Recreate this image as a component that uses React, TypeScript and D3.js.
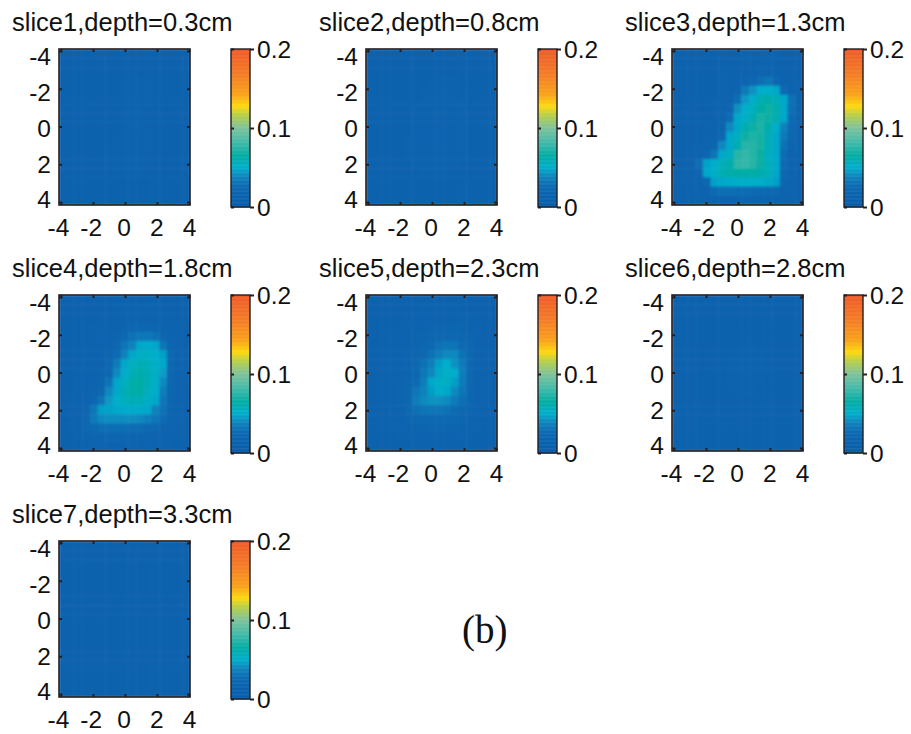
import React, { useEffect, useRef } from 'react'
import * as d3 from 'd3'

// values are in thousandths, rows run from y=-4 down to y=4, columns from x=-4 to x=4
const slice1 = [
	[12, 12, 12, 12, 12, 12, 12, 12, 12, 12, 12, 12, 12, 12, 12, 12, 12],
	[12, 12, 12, 12, 12, 12, 12, 12, 12, 12, 12, 12, 12, 12, 12, 12, 12],
	[12, 12, 12, 12, 12, 13, 13, 13, 13, 13, 13, 13, 13, 13, 12, 12, 12],
	[12, 12, 12, 12, 12, 13, 13, 13, 14, 14, 14, 14, 13, 13, 12, 12, 12],
	[12, 12, 12, 12, 12, 13, 13, 13, 14, 14, 14, 14, 13, 13, 12, 12, 12],
	[12, 12, 12, 12, 12, 13, 13, 13, 14, 14, 14, 14, 13, 13, 12, 12, 12],
	[12, 12, 12, 12, 12, 13, 13, 13, 14, 14, 14, 14, 13, 13, 12, 12, 12],
	[12, 12, 12, 12, 12, 13, 13, 13, 14, 14, 14, 14, 13, 13, 12, 12, 12],
	[12, 12, 12, 12, 12, 13, 13, 13, 14, 14, 14, 14, 13, 13, 12, 12, 12],
	[12, 12, 12, 12, 13, 13, 13, 13, 14, 14, 14, 14, 13, 13, 12, 12, 12],
	[12, 12, 12, 12, 13, 13, 13, 14, 14, 14, 14, 14, 13, 13, 12, 12, 12],
	[12, 12, 12, 13, 13, 13, 14, 14, 14, 14, 14, 14, 13, 13, 12, 12, 12],
	[12, 12, 12, 13, 13, 13, 14, 14, 14, 14, 14, 14, 13, 13, 12, 12, 12],
	[12, 12, 12, 13, 13, 13, 13, 14, 14, 14, 14, 13, 13, 13, 12, 12, 12],
	[12, 12, 12, 12, 13, 13, 13, 13, 13, 13, 13, 13, 13, 12, 12, 12, 12],
	[12, 12, 12, 12, 12, 12, 12, 12, 12, 12, 12, 12, 12, 12, 12, 12, 12],
	[12, 12, 12, 12, 12, 12, 12, 12, 12, 12, 12, 12, 12, 12, 12, 12, 12],
]
const slice2 = [
	[12, 12, 12, 12, 12, 12, 12, 12, 12, 12, 12, 12, 12, 12, 12, 12, 12],
	[12, 12, 12, 12, 12, 12, 12, 12, 12, 12, 12, 12, 12, 12, 12, 12, 12],
	[12, 12, 12, 12, 12, 13, 13, 13, 13, 13, 13, 13, 13, 12, 12, 12, 12],
	[12, 12, 12, 12, 13, 13, 13, 13, 14, 14, 14, 14, 13, 13, 12, 12, 12],
	[12, 12, 12, 12, 13, 13, 13, 14, 14, 14, 14, 14, 13, 13, 12, 12, 12],
	[12, 12, 12, 12, 13, 13, 13, 14, 15, 15, 15, 14, 14, 13, 13, 12, 12],
	[12, 12, 12, 12, 13, 13, 14, 14, 15, 15, 15, 15, 14, 13, 13, 12, 12],
	[12, 12, 12, 12, 13, 13, 14, 14, 15, 15, 15, 15, 14, 13, 13, 12, 12],
	[12, 12, 12, 12, 13, 13, 14, 15, 15, 15, 15, 15, 14, 13, 13, 12, 12],
	[12, 12, 12, 12, 13, 14, 14, 15, 15, 15, 15, 14, 14, 13, 13, 12, 12],
	[12, 12, 12, 13, 13, 14, 14, 15, 15, 15, 15, 14, 14, 13, 12, 12, 12],
	[12, 12, 12, 13, 13, 14, 14, 14, 15, 15, 14, 14, 14, 13, 12, 12, 12],
	[12, 12, 12, 13, 13, 13, 14, 14, 14, 14, 14, 14, 13, 13, 12, 12, 12],
	[12, 12, 12, 12, 13, 13, 13, 14, 14, 14, 14, 13, 13, 13, 12, 12, 12],
	[12, 12, 12, 12, 12, 13, 13, 13, 13, 13, 13, 13, 13, 12, 12, 12, 12],
	[12, 12, 12, 12, 12, 12, 12, 12, 12, 12, 12, 12, 12, 12, 12, 12, 12],
	[12, 12, 12, 12, 12, 12, 12, 12, 12, 12, 12, 12, 12, 12, 12, 12, 12],
]
const slice3 = [
	[13, 13, 13, 13, 13, 13, 13, 13, 13, 14, 14, 14, 14, 14, 13, 13, 13],
	[13, 13, 13, 13, 13, 13, 13, 14, 14, 14, 14, 14, 14, 14, 14, 13, 13],
	[13, 13, 13, 13, 13, 13, 14, 14, 15, 16, 17, 18, 18, 17, 15, 14, 13],
	[13, 13, 13, 13, 13, 13, 14, 15, 16, 18, 21, 28, 32, 22, 17, 15, 14],
	[13, 13, 13, 13, 13, 13, 14, 15, 18, 34, 42, 50, 51, 48, 26, 17, 14],
	[13, 13, 13, 13, 13, 14, 14, 16, 28, 44, 50, 60, 62, 58, 48, 30, 16],
	[13, 13, 13, 13, 13, 14, 15, 20, 42, 50, 56, 64, 66, 62, 48, 28, 16],
	[13, 13, 13, 13, 13, 14, 16, 27, 48, 52, 60, 70, 68, 60, 48, 26, 16],
	[13, 13, 13, 13, 14, 14, 18, 40, 48, 60, 68, 72, 62, 50, 38, 24, 15],
	[13, 13, 13, 13, 14, 16, 24, 48, 55, 68, 72, 70, 58, 48, 34, 21, 15],
	[13, 13, 13, 14, 15, 20, 40, 48, 60, 74, 74, 70, 57, 48, 30, 18, 14],
	[13, 13, 14, 15, 20, 32, 48, 55, 74, 77, 74, 66, 54, 48, 27, 17, 14],
	[13, 14, 15, 28, 47, 50, 56, 62, 76, 78, 74, 66, 56, 48, 26, 16, 14],
	[13, 14, 15, 18, 48, 52, 60, 62, 64, 64, 64, 62, 57, 48, 24, 16, 13],
	[13, 14, 14, 16, 22, 47, 48, 49, 51, 51, 51, 51, 48, 46, 21, 15, 13],
	[13, 13, 14, 15, 17, 26, 28, 28, 27, 27, 26, 26, 25, 24, 17, 14, 13],
	[13, 13, 13, 14, 14, 15, 16, 16, 16, 16, 16, 16, 15, 15, 14, 13, 13],
]
const slice4 = [
	[13, 13, 13, 13, 13, 13, 13, 13, 13, 13, 13, 13, 13, 13, 13, 13, 13],
	[13, 13, 13, 13, 13, 13, 13, 14, 14, 14, 14, 14, 14, 13, 13, 13, 13],
	[13, 13, 13, 13, 13, 14, 14, 14, 15, 16, 16, 16, 15, 14, 14, 13, 13],
	[13, 13, 13, 14, 14, 14, 15, 16, 18, 20, 21, 21, 19, 17, 15, 14, 13],
	[13, 13, 13, 14, 14, 15, 16, 18, 24, 30, 33, 33, 30, 22, 16, 14, 13],
	[13, 13, 13, 14, 15, 16, 17, 22, 32, 38, 48, 49, 48, 32, 19, 15, 13],
	[13, 13, 13, 14, 15, 16, 18, 26, 38, 48, 52, 53, 50, 46, 24, 16, 14],
	[13, 13, 13, 14, 15, 16, 20, 35, 48, 55, 58, 56, 52, 48, 25, 16, 14],
	[13, 13, 14, 14, 15, 18, 24, 40, 50, 58, 62, 58, 53, 45, 24, 16, 14],
	[13, 13, 14, 15, 16, 20, 31, 48, 55, 63, 64, 58, 52, 40, 23, 15, 14],
	[13, 13, 14, 15, 18, 24, 40, 48, 58, 63, 63, 56, 50, 36, 21, 15, 13],
	[13, 14, 14, 16, 21, 32, 44, 50, 56, 58, 58, 53, 48, 32, 20, 15, 13],
	[13, 14, 15, 18, 32, 46, 47, 48, 49, 49, 49, 48, 38, 30, 19, 15, 13],
	[13, 14, 15, 20, 34, 40, 41, 41, 41, 41, 40, 37, 32, 27, 18, 15, 13],
	[13, 14, 15, 24, 26, 28, 28, 28, 28, 27, 27, 25, 23, 19, 16, 14, 13],
	[13, 13, 14, 16, 18, 19, 20, 20, 20, 19, 19, 18, 17, 16, 15, 14, 13],
	[13, 13, 13, 14, 15, 15, 16, 16, 16, 16, 15, 15, 15, 14, 14, 13, 13],
]
const slice5 = [
	[12, 12, 12, 12, 12, 12, 12, 12, 12, 12, 12, 12, 12, 12, 12, 12, 12],
	[12, 12, 12, 12, 12, 13, 13, 14, 14, 14, 14, 14, 13, 13, 13, 12, 12],
	[12, 12, 12, 12, 13, 14, 15, 15, 16, 16, 16, 16, 16, 15, 14, 12, 12],
	[12, 12, 12, 13, 14, 15, 16, 17, 18, 19, 19, 19, 18, 17, 15, 13, 12],
	[12, 12, 13, 14, 15, 16, 18, 19, 21, 23, 24, 23, 21, 18, 16, 13, 12],
	[12, 12, 13, 14, 15, 17, 19, 21, 25, 30, 32, 31, 26, 20, 16, 14, 12],
	[12, 12, 13, 15, 16, 18, 20, 24, 30, 36, 40, 40, 30, 21, 17, 14, 12],
	[12, 12, 14, 15, 17, 19, 22, 30, 37, 46, 50, 42, 34, 23, 17, 14, 12],
	[12, 12, 14, 15, 17, 19, 24, 33, 40, 48, 52, 50, 36, 23, 17, 14, 12],
	[12, 12, 14, 15, 18, 20, 26, 36, 48, 52, 53, 46, 34, 22, 17, 14, 12],
	[12, 12, 14, 15, 18, 22, 32, 38, 46, 50, 48, 40, 32, 21, 16, 14, 12],
	[12, 12, 14, 15, 18, 23, 36, 40, 42, 42, 40, 35, 28, 20, 16, 14, 12],
	[12, 12, 13, 15, 17, 22, 29, 31, 32, 32, 30, 26, 22, 18, 15, 13, 12],
	[12, 12, 13, 14, 16, 19, 22, 24, 25, 25, 24, 22, 19, 17, 15, 13, 12],
	[12, 12, 13, 14, 15, 17, 18, 19, 20, 20, 19, 18, 17, 15, 14, 13, 12],
	[12, 12, 12, 13, 14, 15, 16, 16, 17, 17, 16, 16, 15, 14, 13, 12, 12],
	[12, 12, 12, 12, 13, 13, 14, 14, 14, 14, 14, 14, 13, 13, 12, 12, 12],
]
const slice6 = [
	[12, 12, 12, 12, 12, 12, 12, 12, 12, 12, 12, 12, 12, 12, 12, 12, 12],
	[12, 12, 12, 12, 12, 12, 12, 12, 12, 12, 12, 12, 12, 12, 12, 12, 12],
	[12, 12, 12, 12, 12, 12, 12, 12, 12, 12, 12, 12, 12, 12, 12, 12, 12],
	[12, 12, 12, 12, 12, 12, 12, 13, 13, 13, 13, 13, 12, 12, 12, 12, 12],
	[12, 12, 12, 12, 12, 12, 13, 13, 13, 13, 13, 13, 13, 12, 12, 12, 12],
	[12, 12, 12, 12, 12, 13, 13, 13, 13, 14, 14, 13, 13, 13, 12, 12, 12],
	[12, 12, 12, 12, 12, 13, 13, 13, 14, 14, 14, 14, 13, 13, 12, 12, 12],
	[12, 12, 12, 12, 12, 13, 13, 14, 14, 14, 14, 14, 13, 13, 12, 12, 12],
	[12, 12, 12, 12, 12, 13, 13, 14, 14, 14, 14, 14, 13, 13, 12, 12, 12],
	[12, 12, 12, 12, 12, 13, 13, 14, 14, 14, 14, 14, 13, 13, 12, 12, 12],
	[12, 12, 12, 12, 12, 13, 13, 13, 14, 14, 14, 13, 13, 13, 12, 12, 12],
	[12, 12, 12, 12, 12, 13, 13, 13, 13, 13, 13, 13, 13, 12, 12, 12, 12],
	[12, 12, 12, 12, 12, 12, 13, 13, 13, 13, 13, 13, 12, 12, 12, 12, 12],
	[12, 12, 12, 12, 12, 12, 12, 13, 13, 13, 13, 12, 12, 12, 12, 12, 12],
	[12, 12, 12, 12, 12, 12, 12, 12, 12, 12, 12, 12, 12, 12, 12, 12, 12],
	[12, 12, 12, 12, 12, 12, 12, 12, 12, 12, 12, 12, 12, 12, 12, 12, 12],
	[12, 12, 12, 12, 12, 12, 12, 12, 12, 12, 12, 12, 12, 12, 12, 12, 12],
]
const slice7 = [
	[12, 12, 12, 12, 12, 12, 12, 12, 12, 12, 12, 12, 12, 12, 12, 12, 12],
	[12, 12, 12, 12, 12, 12, 12, 12, 12, 12, 12, 12, 12, 12, 12, 12, 12],
	[12, 12, 12, 12, 12, 12, 12, 12, 12, 12, 12, 12, 12, 12, 12, 12, 12],
	[12, 12, 12, 12, 12, 12, 12, 12, 12, 12, 12, 12, 12, 12, 12, 12, 12],
	[12, 12, 12, 12, 12, 12, 12, 12, 13, 13, 12, 12, 12, 12, 12, 12, 12],
	[12, 12, 12, 12, 12, 12, 12, 13, 13, 13, 13, 12, 12, 12, 12, 12, 12],
	[12, 12, 12, 12, 12, 12, 12, 13, 13, 13, 13, 13, 12, 12, 12, 12, 12],
	[12, 12, 12, 12, 12, 12, 13, 13, 13, 13, 13, 13, 12, 12, 12, 12, 12],
	[12, 12, 12, 12, 12, 12, 13, 13, 13, 13, 13, 13, 12, 12, 12, 12, 12],
	[12, 12, 12, 12, 12, 12, 13, 13, 13, 13, 13, 12, 12, 12, 12, 12, 12],
	[12, 12, 12, 12, 12, 12, 12, 13, 13, 13, 13, 12, 12, 12, 12, 12, 12],
	[12, 12, 12, 12, 12, 12, 12, 12, 13, 13, 12, 12, 12, 12, 12, 12, 12],
	[12, 12, 12, 12, 12, 12, 12, 12, 12, 12, 12, 12, 12, 12, 12, 12, 12],
	[12, 12, 12, 12, 12, 12, 12, 12, 12, 12, 12, 12, 12, 12, 12, 12, 12],
	[12, 12, 12, 12, 12, 12, 12, 12, 12, 12, 12, 12, 12, 12, 12, 12, 12],
	[12, 12, 12, 12, 12, 12, 12, 12, 12, 12, 12, 12, 12, 12, 12, 12, 12],
	[12, 12, 12, 12, 12, 12, 12, 12, 12, 12, 12, 12, 12, 12, 12, 12, 12],
]

const slices = [slice1, slice2, slice3, slice4, slice5, slice6, slice7]
const titles = [
	'slice1,depth=0.3cm',
	'slice2,depth=0.8cm',
	'slice3,depth=1.3cm',
	'slice4,depth=1.8cm',
	'slice5,depth=2.3cm',
	'slice6,depth=2.8cm',
	'slice7,depth=3.3cm',
]
const axisTicks = [-4, -2, 0, 2, 4]
const barTicks = [0, 0.1, 0.2]
const colorStops = [0, 12, 25, 38, 50, 65, 80, 100, 116, 128, 143, 170, 200]
const colorValues = [
	'#0a5dab', '#0a62ae', '#0b68b1', '#0f82bc', '#02aecb', '#04ada3', '#3cb9aa',
	'#7fc29b', '#b5cf4a', '#ffd80e', '#f9a11b', '#f47b27', '#ef5a28',
]

const color = d3.scaleLinear<string>().domain(colorStops).range(colorValues)

const FONT = '"Liberation Sans", Arial, sans-serif'
const INK = '#231f20'

function App() {
	const ref = useRef<SVGSVGElement>(null)

	useEffect(() => {
		const svg = d3.select(ref.current)
		svg.selectAll('*').remove()

		const defs = svg.append('defs')
		defs.append('filter')
			.attr('id', 'soft')
			.attr('x', '-5%').attr('y', '-5%').attr('width', '110%').attr('height', '110%')
			.append('feGaussianBlur')
			.attr('stdDeviation', 1.1)

		// plot corners for each of the three columns / rows
		const lefts = [59, 366, 672]
		const tops = [49, 295, 541]
		const plotW = 131
		const plotH = 156

		slices.forEach((values, i) => {
			const left = lefts[i % 3]
			const top = tops[Math.floor(i / 3)]
			const g = svg.append('g').attr('transform', `translate(${left},${top})`)

			const n = values.length
			const cellX = d3.scaleBand<number>().domain(d3.range(n)).range([0, plotW])
			const cellY = d3.scaleBand<number>().domain(d3.range(n)).range([0, plotH])

			defs.append('clipPath')
				.attr('id', `clip${i}`)
				.append('rect')
				.attr('width', plotW)
				.attr('height', plotH)

			g.append('g')
				.attr('clip-path', `url(#clip${i})`)
				.append('g')
				.attr('filter', 'url(#soft)')
				.selectAll('g')
				.data(values)
				.join('g')
				.selectAll('rect')
				.data((row, r) => row.map((v, c) => ({ v, r, c })))
				.join('rect')
				.attr('x', d => cellX(d.c))
				.attr('y', d => cellY(d.r))
				.attr('width', cellX.bandwidth() + 0.5)
				.attr('height', cellY.bandwidth() + 0.5)
				.attr('fill', d => color(d.v))

			// ticks sit nearly on the frame, the labels are a bit tighter than the ticks
			const x = d3.scaleLinear().domain([-4, 4]).range([2, plotW - 1])
			const y = d3.scaleLinear().domain([-4, 4]).range([2, plotH - 3])
			const labelX = d3.scaleLinear().domain([-4, 4]).range([-1, 130])
			const labelY = d3.scaleLinear().domain([-4, 4]).range([7, 150])

			const drawAxis = (sel, axis) => {
				sel.call(axis)
				sel.select('.domain').remove()
				sel.selectAll('.tick line').attr('stroke', INK).attr('stroke-width', 2)
				sel.selectAll('text').attr('fill', '#111').attr('font-size', 24.5).attr('font-family', FONT)
			}

			const bottom = g.append('g').attr('transform', `translate(0,${plotH})`)
			drawAxis(bottom, d3.axisBottom(x).tickValues(axisTicks).tickSize(-3).tickPadding(11).tickFormat(String))
			bottom.selectAll('.tick text').attr('x', d => labelX(d) - x(d)).attr('y', 14)

			const top2 = g.append('g')
			drawAxis(top2, d3.axisTop(x).tickValues(axisTicks).tickSize(-3).tickFormat(''))

			const leftAxis = g.append('g')
			drawAxis(leftAxis, d3.axisLeft(y).tickValues(axisTicks).tickSize(-3).tickPadding(8).tickFormat(String))
			leftAxis.selectAll('.tick text').attr('y', d => labelY(d) - y(d)).attr('dy', '0.36em')

			const rightAxis = g.append('g').attr('transform', `translate(${plotW},0)`)
			drawAxis(rightAxis, d3.axisRight(y).tickValues(axisTicks).tickSize(-3).tickFormat(''))

			g.append('rect')
				.attr('width', plotW)
				.attr('height', plotH)
				.attr('fill', 'none')
				.attr('stroke', INK)
				.attr('stroke-width', 1.6)

			g.append('text')
				.attr('x', -47)
				.attr('y', -18)
				.attr('font-family', FONT)
				.attr('font-size', 25.5)
				.attr('fill', '#111')
				.text(titles[i])

			// colour bar
			const barX = left + 172
			const barW = 19
			const barH = 158
			const bar = svg.append('g').attr('transform', `translate(${barX},${top})`)
			const barY = d3.scaleLinear().domain([0, 0.2]).range([barH, 0])
			const steps = d3.range(0, 200, 1)
			bar.selectAll('rect.step')
				.data(steps)
				.join('rect')
				.attr('class', 'step')
				.attr('x', 0)
				.attr('y', d => barY((d + 1) / 1000))
				.attr('width', barW)
				.attr('height', barH / 200 + 0.5)
				.attr('fill', d => color(d))

			const barAxis = bar.append('g').attr('transform', `translate(${barW},0)`)
			drawAxis(barAxis, d3.axisRight(barY).tickValues(barTicks).tickSize(4).tickPadding(3).tickFormat(d => String(d)))
			barAxis.selectAll('.tick text').attr('dy', '0.36em')
			const barLeftAxis = bar.append('g')
			drawAxis(barLeftAxis, d3.axisRight(barY).tickValues(barTicks).tickSize(3).tickFormat(''))

			bar.append('rect')
				.attr('width', barW)
				.attr('height', barH)
				.attr('fill', 'none')
				.attr('stroke', INK)
				.attr('stroke-width', 1.4)
		})

		svg.append('text')
			.attr('x', 462)
			.attr('y', 643)
			.attr('font-family', '"Liberation Serif", "Times New Roman", serif')
			.attr('font-size', 39)
			.attr('fill', '#111')
			.text('(b)')
	}, [])

	return (
		<svg
			ref={ref}
			width={911}
			height={734}
			style={{ position: 'absolute', left: 0, top: 0, background: '#fff' }}
		/>
	)
}

export default App
